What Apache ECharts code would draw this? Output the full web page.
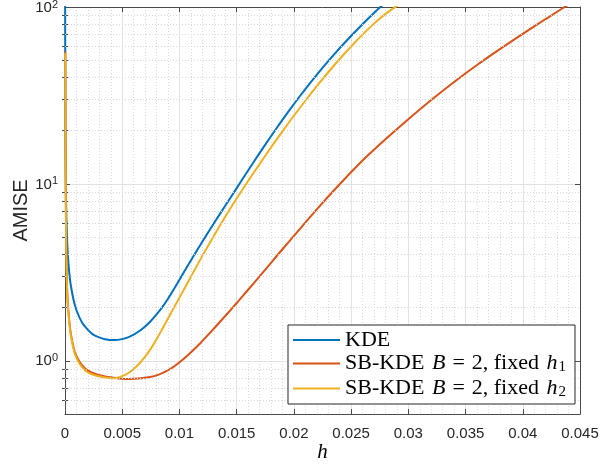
<!DOCTYPE html>
<html><head><meta charset="utf-8">
<script src="https://cdn.jsdelivr.net/npm/echarts@6/dist/echarts.min.js"></script>
<style>html,body{margin:0;padding:0;background:#fff}#c{width:600px;height:467px}</style>
</head><body><div id="c"></div>
<script>
// ---- data ----
const kdeH = [0.00001,0.00003,0.00006,0.0001,0.00015,0.0002,0.0003,0.0004,0.0005,0.00076,0.001,0.0015,0.002,0.0025,0.003,0.0035,0.0043,0.005,0.0055,0.006,0.0065,0.007,0.0075,0.008,0.0085,0.009,0.0095,0.01,0.0105,0.0115,0.0125,0.0135,0.0145,0.0155,0.0165,0.0175,0.0185,0.0195,0.0205,0.0215,0.0225,0.0235,0.0245,0.0255,0.0265,0.0275,0.0285];
const kdeAmise = [126,28.2,12.6,7.41,5.62,4.57,3.55,3.02,2.69,2.19,1.93,1.64,1.496,1.40,1.355,1.324,1.309,1.325,1.356,1.405,1.472,1.563,1.679,1.828,2.012,2.243,2.529,2.871,3.258,4.178,5.309,6.699,8.433,10.62,13.34,16.67,20.70,25.53,31.19,37.76,45.29,53.83,63.39,74.13,86.10,99.3,114];

const sb1H = [0.00002,0.00004,0.00007,0.00011,0.000175,0.00026,0.00047,0.0007,0.0009,0.0013,0.00178,0.0023,0.00294,0.0035,0.0041,0.0047,0.0056,0.0064,0.00731,0.0082,0.00906,0.0099,0.0108,0.0118,0.013,0.014,0.015,0.016,0.017,0.018,0.019,0.02,0.022,0.024,0.026,0.028,0.03,0.032,0.034,0.036,0.038,0.04,0.042,0.044,0.045];
const sb1Amise = [56,20.5,8.2,4.3,2.67,2.05,1.48,1.23,1.1,0.98,0.9,0.86,0.832,0.815,0.803,0.794,0.788,0.793,0.806,0.835,0.887,0.968,1.086,1.253,1.517,1.79,2.12,2.52,3.0,3.58,4.27,5.08,7.18,9.95,13.55,17.86,23.2,29.8,37.7,47.0,57.8,70.5,85.5,103.3,113];

const sb2H = [0.00002,0.00004,0.00007,0.00011,0.000175,0.00026,0.00047,0.0007,0.0009,0.0013,0.00178,0.0023,0.00294,0.0035,0.0041,0.0045,0.005,0.0055,0.006,0.0065,0.007,0.0075,0.008,0.0085,0.009,0.01,0.011,0.012,0.013,0.014,0.015,0.016,0.017,0.018,0.019,0.02,0.021,0.022,0.023,0.024,0.025,0.026,0.027,0.028,0.029,0.0298];
const sb2Amise = [55,20,8,4.2,2.6,2.0,1.445,1.2,1.075,0.955,0.878,0.84,0.817,0.803,0.796,0.800,0.818,0.850,0.898,0.965,1.054,1.171,1.323,1.514,1.734,2.275,2.985,3.917,5.08,6.52,8.26,10.38,12.94,16.07,19.82,24.27,29.51,35.65,42.76,50.82,59.84,69.82,80.54,91.4,101.4,110];

const seriesNames = ['KDE', 'SB-KDE B = 2, fixed h1', 'SB-KDE B = 2, fixed h2'];
const xMin = 0, xMax = 0.045, xStep = 0.005;
const yMin = 0.5, yMax = 100;
const yMajorTicks = [1, 10, 100];
const yMinorTicks = [0.6,0.7,0.8,0.9,2,3,4,5,6,7,8,9,20,30,40,50,60,70,80,90];

// ---- styling ----
const colors = ['#0072BD', '#D95319', '#EDB120'];
const axisColor = '#4a4a4a';
const labelColor = '#262626';
const pair = (xs, ys) => xs.map((x, i) => [x, ys[i]]);

const LF = 'Liberation Serif';
const legendRich = {
  r: { fontFamily: LF, fontSize: 22, lineHeight: 25, color: '#000' },
  i: { fontFamily: LF, fontSize: 22, lineHeight: 25, fontStyle: 'italic', color: '#000', padding: [0, 0, 0, 2] },
  eq: { fontFamily: LF, fontSize: 22, lineHeight: 25, color: '#000', padding: [0, 7, 0, 7] },
  sub: { fontFamily: LF, fontSize: 15, lineHeight: 15, verticalAlign: 'bottom', color: '#000', padding: [0, 0, 1, 1] }
};
function legendLabel(name) {
  if (name === seriesNames[0]) return '{r|KDE}';
  const k = name === seriesNames[1] ? '1' : '2';
  return '{r|SB-KDE }{i|B}{eq|=}{r|2, fixed }{i|h}{sub|' + k + '}';
}

const chart = echarts.init(document.getElementById('c'), null, { renderer: 'canvas' });
const baseY = {
  type: 'log', logBase: 10, min: yMin, max: yMax,
  axisLine: { show: false }, axisLabel: { show: false }, splitLine: { show: false },
  axisTick: { show: false }
};
const lineSeries = (name, xs, ys, color) => ({
  name, type: 'line', data: pair(xs, ys), showSymbol: false, symbol: 'none',
  smooth: 0.3, z: 3, lineStyle: { color, width: 2 }, itemStyle: { color }
});
chart.setOption({
  animation: false,
  backgroundColor: '#fff',
  grid: { left: 65, right: 20, top: 7, bottom: 53, show: false, containLabel: false, outerBoundsMode: 'none' },
  xAxis: [
    {
      type: 'value', min: xMin, max: xMax, interval: xStep, position: 'bottom',
      name: 'h', nameLocation: 'middle', nameGap: 28, nameMoveOverlap: false,
      nameTextStyle: { fontFamily: LF, fontStyle: 'italic', fontSize: 21, color: '#000' },
      axisLine: { show: true, lineStyle: { color: axisColor, width: 1 } },
      axisTick: { show: true, inside: true, length: 5, lineStyle: { color: axisColor } },
      axisLabel: { fontFamily: 'Liberation Sans', fontSize: 15, color: labelColor, margin: 12 },
      splitLine: { show: true, lineStyle: { color: '#e2e2e2', width: 1 } },
      minorTick: { show: false, splitNumber: 5 },
      minorSplitLine: { show: true, lineStyle: { color: '#d8d8d8', width: 1, type: [1, 2] } }
    },
    {
      type: 'value', min: xMin, max: xMax, interval: xStep, position: 'top',
      axisLine: { show: true, lineStyle: { color: axisColor, width: 1 } },
      axisTick: { show: true, inside: true, length: 5, lineStyle: { color: axisColor } },
      axisLabel: { show: false }, splitLine: { show: false }
    }
  ],
  yAxis: [
    {
      type: 'log', logBase: 10, min: yMin, max: yMax, position: 'left',
      name: 'AMISE', nameLocation: 'middle', nameGap: 34, nameRotate: 90, nameMoveOverlap: false,
      nameTextStyle: { fontFamily: 'Liberation Sans', fontSize: 20, color: labelColor },
      axisLine: { show: true, onZero: false, lineStyle: { color: axisColor, width: 1 } },
      axisTick: { show: true, inside: true, length: 5, customValues: yMajorTicks, lineStyle: { color: axisColor } },
      axisLabel: {
        customValues: yMajorTicks, margin: 7,
        formatter: v => '{b|10}{s|' + Math.round(Math.log10(v)) + '}',
        rich: {
          b: { fontFamily: 'Liberation Sans', fontSize: 15, lineHeight: 16, verticalAlign: 'bottom', color: labelColor },
          s: { fontFamily: 'Liberation Sans', fontSize: 11, lineHeight: 11, padding: [0, 0, 10, 0], verticalAlign: 'top', color: labelColor }
        }
      },
      splitLine: { show: true, lineStyle: { color: '#e2e2e2', width: 1 } }
    },
    Object.assign({}, baseY, {
      position: 'right',
      axisLine: { show: true, onZero: false, lineStyle: { color: axisColor, width: 1 } },
      axisTick: { show: true, inside: true, length: 5, customValues: yMajorTicks, lineStyle: { color: axisColor } }
    }),
    Object.assign({}, baseY, {
      position: 'left',
      axisTick: { show: true, inside: true, length: 3, customValues: yMinorTicks, lineStyle: { color: axisColor } }
    }),
    Object.assign({}, baseY, {
      position: 'right',
      axisTick: { show: true, inside: true, length: 3, customValues: yMinorTicks, lineStyle: { color: axisColor } }
    })
  ],
  legend: {
    data: seriesNames, orient: 'vertical', left: 288, top: 325,
    icon: 'rect', itemWidth: 47, itemHeight: 2, itemGap: 1.5,
    padding: [4, 9, 3, 5], borderColor: '#262626', borderWidth: 1, borderRadius: 0,
    backgroundColor: '#fff', selectedMode: false, z: 10,
    textStyle: { fontFamily: LF, fontSize: 22, color: '#000', rich: legendRich },
    formatter: legendLabel
  },
  series: [
    {
      name: 'minor-grid', type: 'line', data: [], z: 1, silent: true,
      markLine: {
        silent: true, symbol: 'none', animation: false,
        label: { show: false },
        lineStyle: { color: '#d8d8d8', width: 1, type: [1, 2] },
        emphasis: { disabled: true },
        data: yMinorTicks.map(v => ({ yAxis: v }))
      }
    },
    lineSeries(seriesNames[0], kdeH, kdeAmise, colors[0]),
    lineSeries(seriesNames[1], sb1H, sb1Amise, colors[1]),
    lineSeries(seriesNames[2], sb2H, sb2Amise, colors[2])
  ]
});
</script>
</body></html>
